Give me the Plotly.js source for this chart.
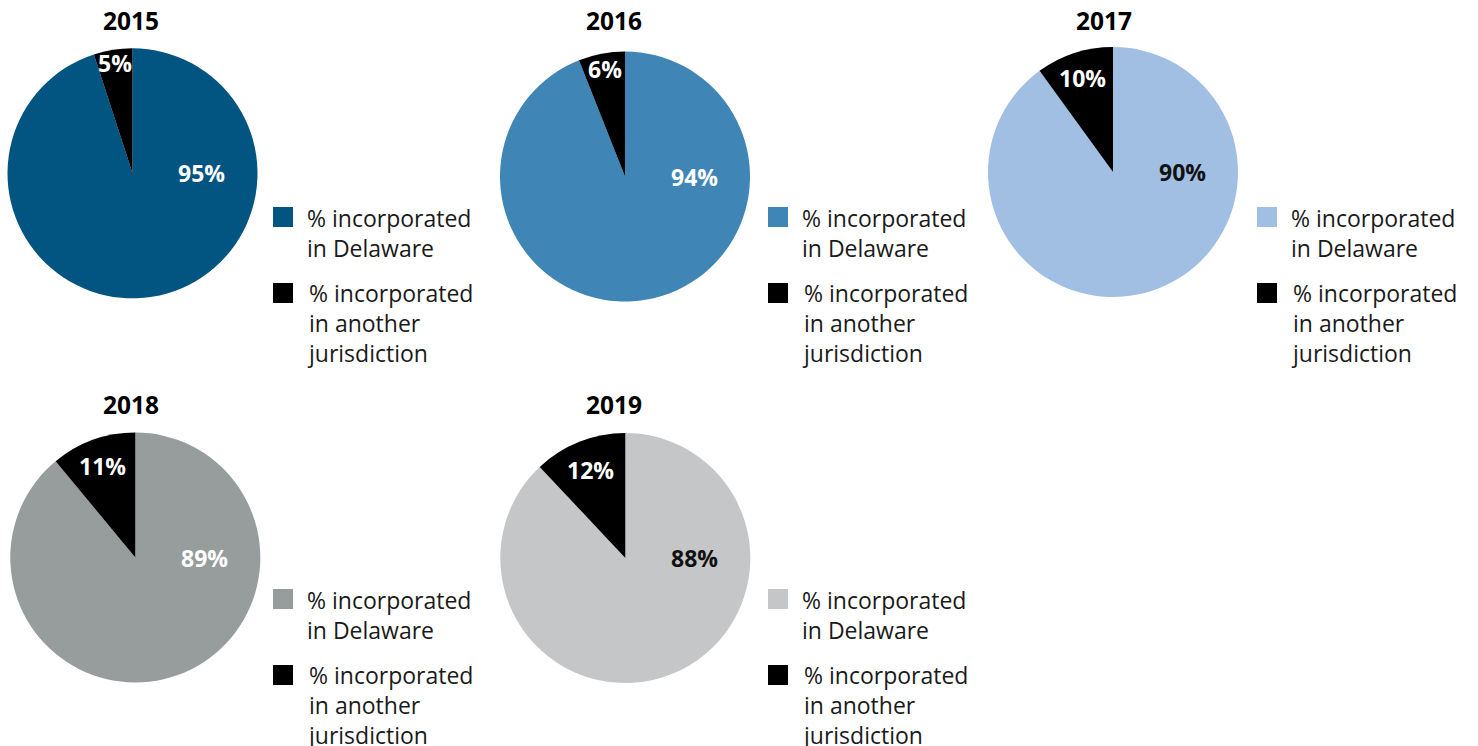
<!DOCTYPE html>
<html><head><meta charset="utf-8">
<script src="https://cdn.plot.ly/plotly-3.0.1.min.js"></script>
<style>html,body{margin:0;padding:0;background:#fff;} #chart{width:1478px;height:746px;}</style>
</head><body><div id="chart"></div>
<script>
// ---- data ----
const years = ['2015', '2016', '2017', '2018', '2019'];
const categories = ['% incorporated in Delaware', '% incorporated in another jurisdiction'];
const legendLabels = ['% incorporated<br>in Delaware', '% incorporated<br>in another<br>jurisdiction'];
const delaware = [95, 94, 90, 89, 88];
const another = [5, 6, 10, 11, 12];

// ---- styles ----
const delawareColors = ['#025481', '#3f85b6', '#a1bfe3', '#979c9d', '#c5c6c8'];
const otherColor = '#000000';
const delawareLabelColors = ['#ffffff', '#ffffff', '#111111', '#ffffff', '#111111'];
const otherLabelColor = '#ffffff';
const FONT = 'Open Sans, Lato, sans-serif';
const TEXT = '#1a1a1a';

// ---- layout geometry (pixels) ----
const W = 1478, H = 746, R = 125;
const panelCx = [132.5, 625, 1113, 135.3, 625.3];
const panelCy = [173.3, 176.5, 172, 557.5, 558];
const titleX = [131, 614, 1104, 131, 614];
const titleY = [20.5, 20.5, 20.5, 404.5, 404.5];
const legendX = [273, 768, 1257, 273, 768];
const legendY = [207, 207, 207, 589, 589];

const px = x => x / W;
const py = y => 1 - y / H;

const data = [];
const annotations = [];
const shapes = [];

years.forEach((yr, i) => {
  const cx = panelCx[i], cy = panelCy[i];
  data.push({
    type: 'pie',
    name: yr,
    labels: categories,
    values: [delaware[i], another[i]],
    sort: false,
    direction: 'clockwise',
    rotation: 0,
    textinfo: 'none',
    hovertemplate: yr + '<br>%{label}: %{value}%<extra></extra>',
    marker: { colors: [delawareColors[i], otherColor], line: { width: 0 } },
    showlegend: false,
    domain: { x: [px(cx - R), px(cx + R)], y: [py(cy + R), py(cy - R)] }
  });

  // title
  annotations.push({
    xref: 'paper', yref: 'paper', x: px(titleX[i]), y: py(titleY[i]),
    xanchor: 'center', yanchor: 'middle', showarrow: false,
    text: yr, font: { family: FONT, size: 24.5, weight: 700, color: '#000' }
  });

  // big slice label (3 o'clock)
  annotations.push({
    xref: 'paper', yref: 'paper', x: px(cx + 0.555 * R), y: py(cy),
    xanchor: 'center', yanchor: 'middle', showarrow: false,
    text: delaware[i] + '%', font: { family: FONT, size: 23, weight: 700, color: delawareLabelColors[i] }
  });

  // small slice label at its mid-angle
  const frac = another[i] / (delaware[i] + another[i]);
  const half = frac * Math.PI;
  const s = Math.sin(half);
  const rc = 1 - s / (1 + s) + 0.03;
  const theta = -half;
  annotations.push({
    xref: 'paper', yref: 'paper',
    x: px(cx + rc * R * Math.sin(theta)), y: py(cy - rc * R * Math.cos(theta)),
    xanchor: 'center', yanchor: 'middle', showarrow: false,
    text: another[i] + '%', font: { family: FONT, size: 23, weight: 700, color: otherLabelColor }
  });

  // legend (per pie)
  const lx = legendX[i], ly = legendY[i];
  const swatchTops = [ly, ly + 76];
  const textMids = [ly + 25.5, ly + 116];
  const swatchColors = [delawareColors[i], otherColor];
  for (let k = 0; k < 2; k++) {
    shapes.push({
      type: 'rect', xref: 'paper', yref: 'paper',
      x0: px(lx), x1: px(lx + 20), y0: py(swatchTops[k] + 20), y1: py(swatchTops[k]),
      fillcolor: swatchColors[k], line: { width: 0 }
    });
    annotations.push({
      xref: 'paper', yref: 'paper', x: px(lx + 32), y: py(textMids[k]),
      xanchor: 'left', yanchor: 'middle', align: 'left', showarrow: false,
      text: legendLabels[k], font: { family: FONT, size: 23, color: TEXT }
    });
  }
});

const layout = {
  width: W, height: H,
  margin: { l: 0, r: 0, t: 0, b: 0 },
  paper_bgcolor: '#ffffff',
  showlegend: false,
  annotations: annotations,
  shapes: shapes,
  font: { family: FONT }
};

Plotly.newPlot('chart', data, layout, { displayModeBar: false, responsive: false });
</script>
</body></html>
